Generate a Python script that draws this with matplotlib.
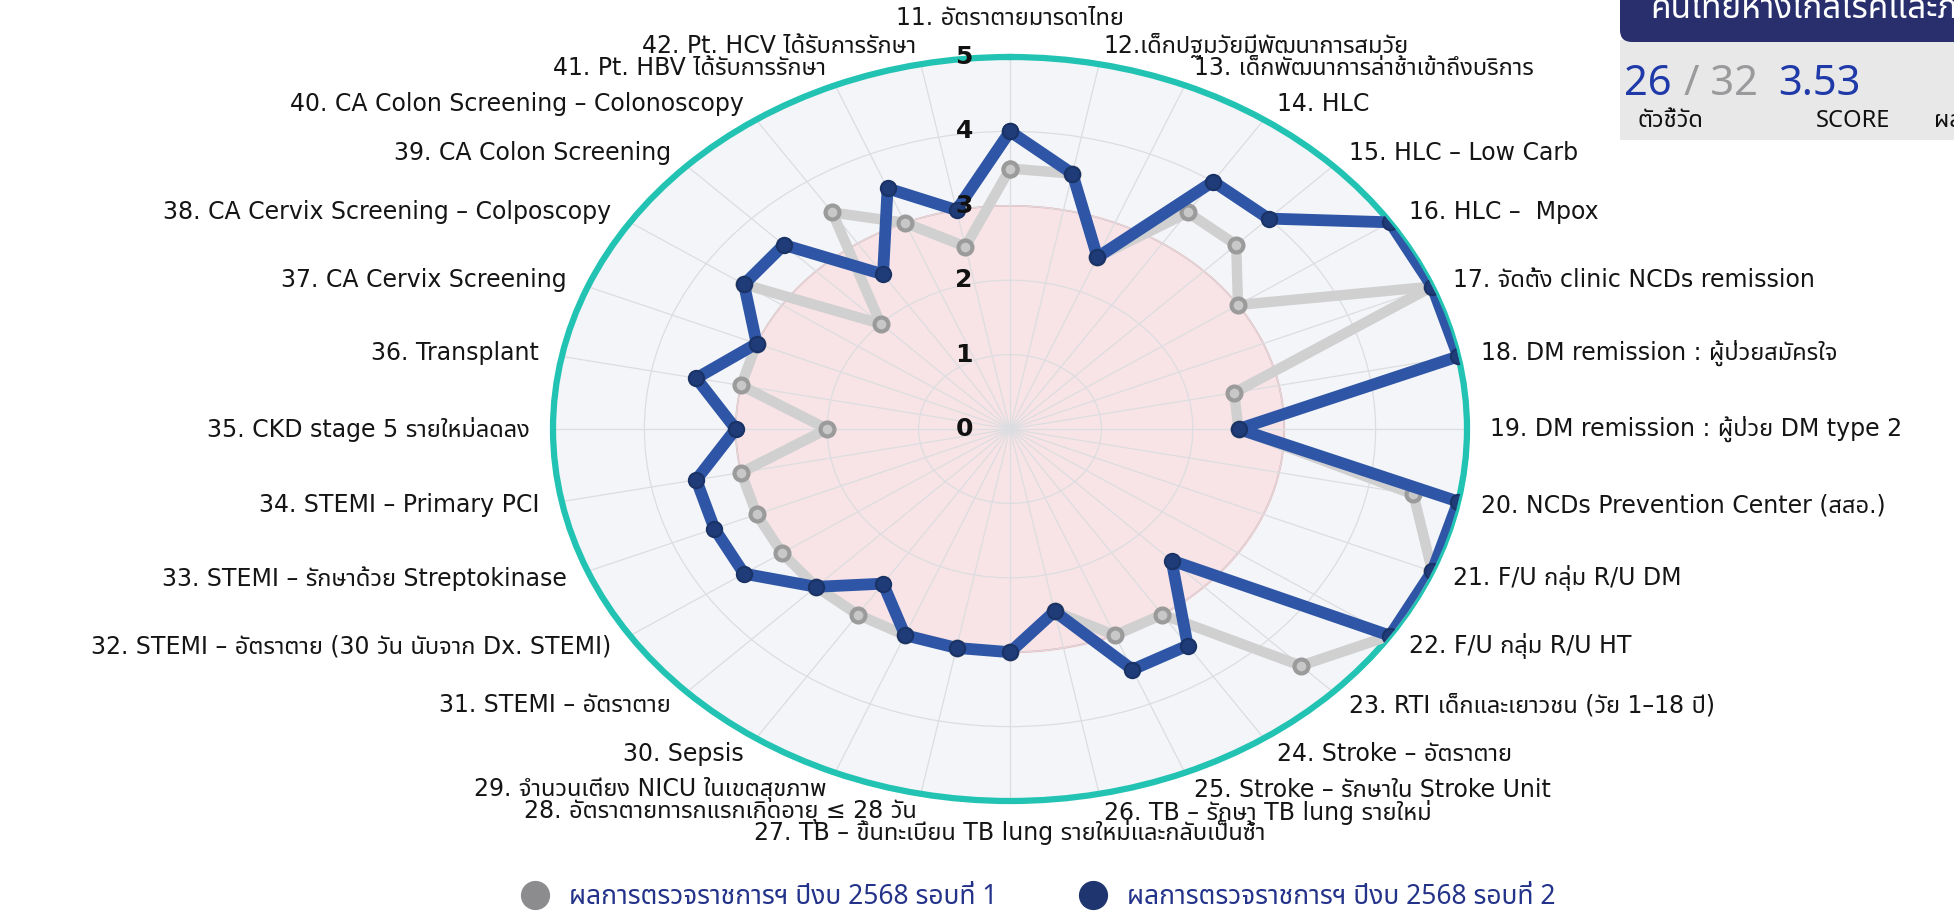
import numpy as np
import matplotlib
matplotlib.use("Agg")
import matplotlib.pyplot as plt
from matplotlib import font_manager
from matplotlib.lines import Line2D
from matplotlib.patches import FancyBboxPatch, Rectangle

labels = [
    "11. อัตราตายมารดาไทย",
    "12.เด็กปฐมวัยมีพัฒนาการสมวัย",
    "13. เด็กพัฒนาการล่าช้าเข้าถึงบริการ",
    "14. HLC",
    "15. HLC – Low Carb",
    "16. HLC –  Mpox",
    "17. จัดตั้ง clinic NCDs remission",
    "18. DM remission : ผู้ป่วยสมัครใจ",
    "19. DM remission : ผู้ป่วย DM type 2",
    "20. NCDs Prevention Center (สสอ.)",
    "21. F/U กลุ่ม R/U DM",
    "22. F/U กลุ่ม R/U HT",
    "23. RTI เด็กและเยาวชน (วัย 1–18 ปี)",
    "24. Stroke – อัตราตาย",
    "25. Stroke – รักษาใน Stroke Unit",
    "26. TB – รักษา TB lung รายใหม่",
    "27. TB – ขึ้นทะเบียน TB lung รายใหม่และกลับเป็นซ้ำ",
    "28. อัตราตายทารกแรกเกิดอายุ ≤ 28 วัน",
    "29. จำนวนเตียง NICU ในเขตสุขภาพ",
    "30. Sepsis",
    "31. STEMI – อัตราตาย",
    "32. STEMI – อัตราตาย (30 วัน นับจาก Dx. STEMI)",
    "33. STEMI – รักษาด้วย Streptokinase",
    "34. STEMI – Primary PCI",
    "35. CKD stage 5 รายใหม่ลดลง",
    "36. Transplant",
    "37. CA Cervix Screening",
    "38. CA Cervix Screening – Colposcopy",
    "39. CA Colon Screening",
    "40. CA Colon Screening – Colonoscopy",
    "41. Pt. HBV ได้รับการรักษา",
    "42. Pt. HCV ได้รับการรักษา",
]
round1 = [3.5, 3.5, 2.5, 3.5, 3.5, 3.0, 5.0, 2.5, 2.5, 4.5, 5.0, 5.0, 4.5, 3.0, 3.0, 2.5,
          3.0, 3.0, 3.0, 3.0, 3.0, 3.0, 3.0, 3.0, 2.0, 3.0, 3.0, 3.5, 2.0, 3.5, 3.0, 2.5]
round2 = [4.0, 3.5, 2.5, 4.0, 4.0, 5.0, 5.0, 5.0, 2.5, 5.0, 5.0, 5.0, 2.5, 3.5, 3.5, 2.5,
          3.0, 3.0, 3.0, 2.5, 3.0, 3.5, 3.5, 3.5, 3.0, 3.5, 3.0, 3.5, 3.5, 2.5, 3.5, 3.0]
r_ticks = [0, 1, 2, 3, 4, 5]
target = 3
legend_labels = ["ผลการตรวจราชการฯ ปีงบ 2568 รอบที่ 1", "ผลการตรวจราชการฯ ปีงบ 2568 รอบที่ 2"]
header_text = "คนไทยห่างไกลโรคและภัยสุขภาพ"
kpi_done, kpi_total, score = 26, 32, 3.53

installed = {f.name for f in font_manager.fontManager.ttflist}
thai_fonts = [n for n in ("Noto Sans Thai", "Noto Sans Thai UI", "Noto Sans Thai Looped", "Sarabun",
                          "Kanit", "Prompt", "Loma", "Garuda", "Waree", "Norasi", "Tlwg Typo")
              if n in installed]
plt.rcParams["font.family"] = ["DejaVu Sans"] + thai_fonts
display_family = thai_fonts + ["DejaVu Sans"]

W, H = 1954, 915
fig = plt.figure(figsize=(W / 100, H / 100), dpi=100)
fig.patch.set_facecolor("white")

# polar area is stretched horizontally in the reference, so keep aspect free
ax = fig.add_axes([553 / W, 114 / H, 914 / W, 744 / H], projection="polar")
ax.set_aspect("auto")
ax.set_theta_zero_location("N")
ax.set_theta_direction(-1)

n = len(labels)
theta = np.arange(n) * 2 * np.pi / n
tt = np.append(theta, theta[0])

ax.set_facecolor("#f3f5f8")
ring = np.linspace(0, 2 * np.pi, 400)
ax.fill_between(ring, 0, target, color="#f8e4e7", zorder=0)
ax.plot(ring, np.full_like(ring, target), color="#eaa3a8", lw=1.2, zorder=1)

ax.set_ylim(0, 5)
ax.set_yticks(r_ticks[1:])
ax.set_yticklabels([])
ax.set_xticks(theta)
ax.set_xticklabels([])
ax.grid(color="#dcdde0", lw=0.9)
ax.spines["polar"].set_color("#22c3b3")
ax.spines["polar"].set_linewidth(4.5)

ax.plot(tt, np.append(round1, round1[0]), color="#d0d0d0", lw=7.5, zorder=3,
        solid_joinstyle="round", marker="o", ms=10, mfc="#c8c8c8", mec="#9b9b9b", mew=3)
ax.plot(tt, np.append(round2, round2[0]), color="#2f56a6", lw=8.5, zorder=4,
        solid_joinstyle="round", marker="o", ms=11, mfc="#1f3b78", mec="#1a3366", mew=1.5)

for r in r_ticks:
    ax.annotate(str(r), xy=(0, r), xytext=(-33, 0), textcoords="offset points",
                ha="center", va="center", fontsize=18, fontweight="bold", color="#111111",
                zorder=6, annotation_clip=False)

R = 5.25
for ang, lab in zip(theta, labels):
    deg = np.degrees(ang) % 360
    if np.isclose(deg, 0):
        ha, va, dy = "center", "bottom", 6
    elif np.isclose(deg, 180):
        ha, va, dy = "center", "top", 0
    elif deg < 180:
        ha, va, dy = "left", "center", 0
    else:
        ha, va, dy = "right", "center", 0
    ax.annotate(lab, xy=(ang, R), xytext=(0, dy), textcoords="offset points",
                ha=ha, va=va, fontsize=17, color="#151515", annotation_clip=False)

# legend
handles = [Line2D([], [], ls="", marker="o", ms=20, color="#8c8c8f"),
           Line2D([], [], ls="", marker="o", ms=20, color="#1e3570")]
fig.legend(handles, legend_labels, loc="center", bbox_to_anchor=(1032 / W, 1 - 897 / H),
           ncol=2, frameon=False, columnspacing=2.6, handletextpad=0.3,
           labelcolor="#24338a", prop=dict(family=display_family, weight="bold", size=19))

# KPI panel (top right, cut by the frame)
fig.patches.append(Rectangle((1620, H - 140), 400, 100, transform=None, facecolor="#e8e8e9",
                             edgecolor="none", zorder=2))
fig.patches.append(FancyBboxPatch((1620, H - 42), 420, 80, transform=None,
                                  boxstyle="round,pad=0,rounding_size=12",
                                  facecolor="#282f6c", edgecolor="none", zorder=3))
fig.text(1650 / W, 1 - 18 / H, header_text, color="white", fontsize=24, va="baseline",
         family=display_family, zorder=4)
fig.text(1624 / W, 1 - 84 / H, str(kpi_done), color="#1f3aa8", fontsize=30,
         fontweight="heavy", va="center", family=display_family, zorder=4)
fig.text(1684 / W, 1 - 84 / H, "/ " + str(kpi_total), color="#9a9a9c", fontsize=30,
         fontweight="heavy", va="center", family=display_family, zorder=4)
fig.text(1778 / W, 1 - 84 / H, f"{score:.2f}", color="#1f3aa8", fontsize=30,
         fontweight="heavy", va="center", family=display_family, zorder=4)
fig.text(1670 / W, 1 - 121 / H, "ตัวชี้วัด", color="#111111", fontsize=17,
         fontweight="bold", ha="center", va="center", family=display_family, zorder=4)
fig.text(1853 / W, 1 - 121 / H, "SCORE", color="#111111", fontsize=17,
         fontweight="bold", ha="center", va="center", family=display_family, zorder=4)
fig.text(1934 / W, 1 - 121 / H, "ผลงาน", color="#111111", fontsize=17,
         fontweight="bold", va="center", family=display_family, zorder=4)

fig.savefig("out.png", dpi=100)
